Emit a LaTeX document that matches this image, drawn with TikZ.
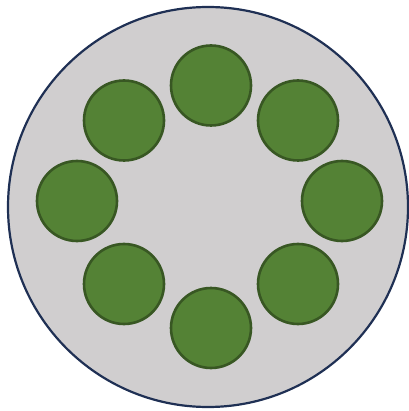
\documentclass[tikz,border=0pt]{standalone}
\usepackage{tikz}
\usetikzlibrary{positioning}
\definecolor{platefill}{RGB}{208,206,207}
\definecolor{plateedge}{RGB}{31,48,84}
\definecolor{holefill}{RGB}{84,130,53}
\definecolor{holeedge}{RGB}{56,87,35}

\begin{document}
\begin{tikzpicture}[x=1pt,y=-1pt,
    plate/.style={circle,fill=platefill,draw=plateedge,line width=2.2pt,minimum size=400pt,inner sep=0pt},
    hole/.style={circle,fill=holefill,draw=holeedge,line width=2.6pt,minimum size=80pt,inner sep=0pt}]
  \useasboundingbox (0,0) rectangle (408,411);
  \node[plate] (base) at (208,207) {};
  % ring of holes
  \node[hole] (top) at (211,85.5) {};
  \node[hole] (topleft) at (124,120.5) {};
  \node[hole] (topright) at (298,120.5) {};
  \node[hole] (left) at (77,201) {};
  \node[hole] (right) at (342,201) {};
  \node[hole] (botleft) at (124,284) {};
  \node[hole] (botright) at (298,284) {};
  \node[hole] (bottom) at (211,328) {};
\end{tikzpicture}
\end{document}
